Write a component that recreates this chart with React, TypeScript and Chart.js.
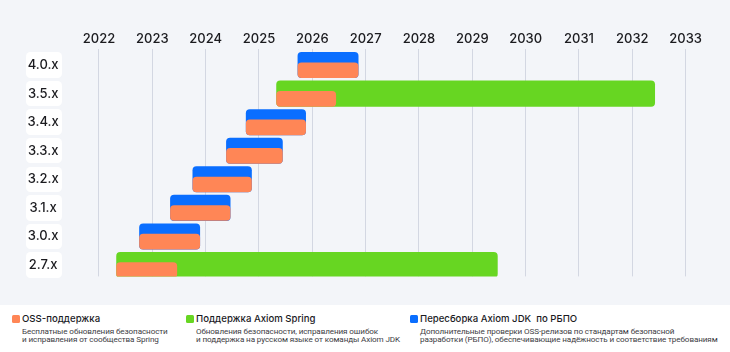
import React, { useEffect, useRef, useState } from 'react';
import { Chart, registerables } from 'chart.js';

Chart.register(...registerables);

// ---- data ----
const versions = ['4.0.x', '3.5.x', '3.4.x', '3.3.x', '3.2.x', '3.1.x', '3.0.x', '2.7.x'];
const years = [2022, 2023, 2024, 2025, 2026, 2027, 2028, 2029, 2030, 2031, 2032, 2033];

// OSS support (orange)
const ossStart = [2025.73, 2025.33, 2024.76, 2024.39, 2023.76, 2023.34, 2022.76, 2022.33];
const ossEnd = [2026.86, 2026.44, 2025.875, 2025.44, 2024.86, 2024.46, 2023.89, 2023.46];

// Axiom Spring support (green)
const springStart = [null, 2025.33, null, null, null, null, null, 2022.33];
const springEnd = [null, 2032.42, null, null, null, null, null, 2029.47];

// Axiom JDK rebuild (blue)
const jdkStart = [2025.73, null, 2024.76, 2024.39, 2023.76, 2023.34, 2022.76, null];
const jdkEnd = [2026.86, null, 2025.875, 2025.44, 2024.86, 2024.46, 2023.89, null];

const ORANGE = '#FF8656';
const GREEN = '#67D622';
const BLUE = '#0A6EFF';
const BG = '#F3F5F9';

const legendItems = [
  {
    color: ORANGE,
    title: 'OSS-поддержка',
    lines: ['Бесплатные обновления безопасности', 'и исправления от сообщества Spring'],
    left: 12,
  },
  {
    color: GREEN,
    title: 'Поддержка Axiom Spring',
    lines: ['Обновления безопасности, исправления ошибок', 'и поддержка на русском языке от команды Axiom JDK'],
    left: 186,
  },
  {
    color: BLUE,
    title: 'Пересборка Axiom JDK  по РБПО',
    lines: [
      'Дополнительные проверки OSS-релизов по стандартам безопасной',
      'разработки (РБПО), обеспечивающие надёжность и соответствие требованиям',
    ],
    left: 410,
  },
];

const FULL_H = 25.4;
const OSS_H = 15;

function ranges(starts: (number | null)[], ends: (number | null)[], shift: number) {
  const out: { x: [number, number]; y: number }[] = [];
  starts.forEach((s, i) => {
    const e = ends[i];
    if (s != null && e != null) out.push({ x: [s, e], y: i + shift });
  });
  return out;
}

export default function App() {
  const ref = useRef<HTMLCanvasElement | null>(null);
  const [boxes, setBoxes] = useState<number[]>([]);

  useEffect(() => {
    document.body.style.margin = '0';
    const canvas = ref.current;
    if (!canvas) return;
    Chart.defaults.font.family = 'Inter';

    // pixel -> unit shift for the OSS band (bottom-aligned inside the full bar)
    const rowPx = 28.7;
    const ossShift = (FULL_H / 2 - OSS_H / 2) / rowPx;

    const chart = new Chart(canvas, {
      type: 'bar',
      data: {
        datasets: [
          {
            label: 'OSS-поддержка',
            data: ranges(ossStart, ossEnd, ossShift) as any,
            backgroundColor: ORANGE,
            barThickness: OSS_H,
            borderRadius: 4,
            borderSkipped: false,
            grouped: false,
          } as any,
          {
            label: 'Пересборка Axiom JDK по РБПО',
            data: ranges(jdkStart, jdkEnd, 0) as any,
            backgroundColor: BLUE,
            barThickness: FULL_H,
            borderRadius: 4,
            borderSkipped: false,
            grouped: false,
          } as any,
          {
            label: 'Поддержка Axiom Spring',
            data: ranges(springStart, springEnd, 0) as any,
            backgroundColor: GREEN,
            barThickness: FULL_H,
            borderRadius: 4,
            borderSkipped: false,
            grouped: false,
          } as any,
        ],
      },
      options: {
        indexAxis: 'y',
        animation: false,
        responsive: false,
        maintainAspectRatio: false,
        layout: { padding: { top: 29.2, bottom: 28.6, left: 0, right: 17.7 } },
        plugins: {
          legend: { display: false },
          tooltip: { enabled: false },
        },
        scales: {
          x: {
            type: 'linear',
            position: 'top',
            offset: false,
            min: 2021.5,
            max: 2033.5,
            afterBuildTicks: (scale: any) => {
              scale.ticks = years.map((v) => ({ value: v }));
            },
            ticks: {
              callback: (v: any) => String(v),
              color: '#1B1B1F',
              padding: 2,
              font: { size: 13, weight: 500 as any },
              maxRotation: 0,
              autoSkip: false,
            },
            grid: { color: '#D3D7E2', lineWidth: 1, drawTicks: false, offset: false },
            border: { display: false },
          },
          y: {
            type: 'linear',
            reverse: true,
            offset: false,
            min: -0.57,
            max: 7.4,
            afterBuildTicks: (scale: any) => {
              scale.ticks = versions.map((_, i) => ({ value: i }));
            },
            afterFit: (scale: any) => {
              scale.width = 72.3;
            },
            ticks: {
              callback: (v: any) => versions[v as number] ?? '',
              color: '#1B1B1F',
              crossAlign: 'center',
              padding: 13.6,
              font: { size: 13, weight: 500 as any },
              autoSkip: false,
            },
            grid: { display: false, drawTicks: false, offset: false },
            border: { display: false },
          },
        },
      } as any,
    });
    const ys: any = chart.scales.y;
    setBoxes(versions.map((_, i) => ys.getPixelForValue(i)));
    return () => chart.destroy();
  }, []);

  return (
    <div
      style={{
        position: 'relative',
        width: 730,
        height: 352,
        background: '#FFFFFF',
        fontFamily: 'Inter, sans-serif',
        overflow: 'hidden',
      }}
    >
      <div style={{ position: 'relative', width: 730, height: 305, background: BG }}>
        {boxes.map((cy, i) => (
          <div
            key={i}
            style={{
              position: 'absolute',
              left: 26.3,
              top: cy - FULL_H / 2,
              width: 36,
              height: FULL_H,
              borderRadius: 4.5,
              background: '#FFFFFF',
            }}
          />
        ))}
        <canvas
          ref={ref}
          width={730}
          height={305}
          style={{ position: 'absolute', left: 0, top: 0, display: 'block', zIndex: 1 }}
        />
      </div>
      {legendItems.map((it) => (
        <div key={it.title} style={{ position: 'absolute', left: it.left, top: 312 }}>
          <div
            style={{
              position: 'absolute',
              left: 0,
              top: 2.5,
              width: 8,
              height: 8,
              borderRadius: 1.5,
              background: it.color,
            }}
          />
          <div
            style={{
              position: 'absolute',
              left: 10,
              top: 0,
              fontSize: 9.6,
              lineHeight: '13px',
              fontWeight: 500,
              color: '#1B1B1F',
              whiteSpace: 'pre',
            }}
          >
            {it.title}
          </div>
          <div
            style={{
              position: 'absolute',
              left: 10,
              top: 14.6,
              fontFamily: 'Roboto, sans-serif',
              fontSize: 8.1,
              lineHeight: '8.5px',
              color: '#3C3C43',
              whiteSpace: 'pre',
              letterSpacing: '-0.1px',
            }}
          >
            {it.lines.map((l) => (
              <div key={l}>{l}</div>
            ))}
          </div>
        </div>
      ))}
    </div>
  );
}
